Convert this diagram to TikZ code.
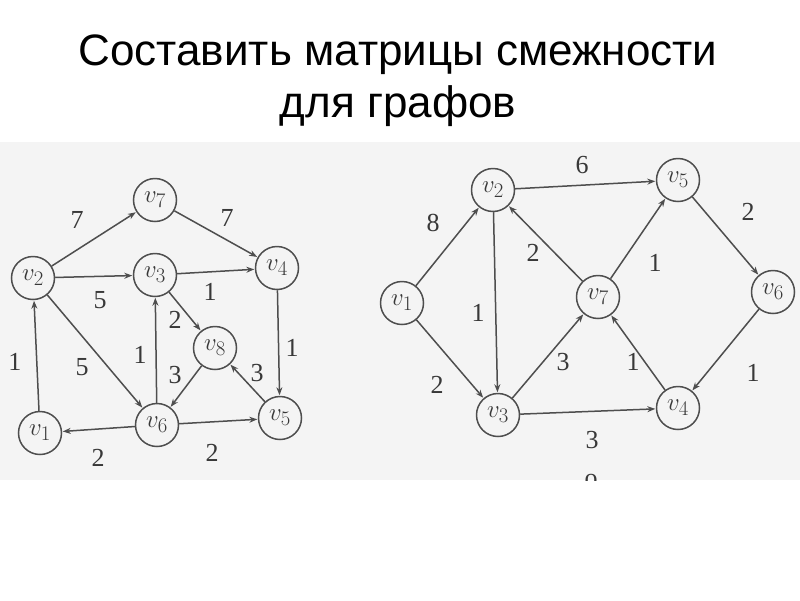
\documentclass[tikz,border=0pt]{standalone}
\usepackage{fontspec}
\setmainfont{Liberation Serif}
\newfontfamily\titlefont{Liberation Sans}
\usetikzlibrary{arrows.meta}
\definecolor{scan}{HTML}{F4F4F4}
\definecolor{ink}{HTML}{4E4E4E}
\definecolor{txt}{HTML}{383838}
\tikzset{
  vert/.style={circle, draw=ink, line width=1.5pt, fill=scan, minimum size=43pt, inner sep=0pt, text=txt, font=\fontsize{30}{30}\selectfont},
  edge/.style={draw=ink, line width=1.5pt, -{Stealth[length=8pt,width=6pt]}, shorten >=0.5pt},
  wlab/.style={text=txt, font=\fontsize{26}{26}\selectfont, inner sep=0pt},
  ttl/.style={font=\titlefont\fontsize{44}{44}\selectfont, anchor=base, inner sep=0pt}
}
\begin{document}
\begin{tikzpicture}[x=1pt,y=-1pt]
\useasboundingbox (0,0) rectangle (800,600);
\fill[white] (0,0) rectangle (800,600);
\fill[scan] (0,142) rectangle (800,480);
\node[ttl] (t1) at (398,65) {Составить матрицы смежности};
\node[ttl] (t2) at (398,117) {для графов};
% left graph
\node[vert] (a7) at (155,200) {$v_7$};
\node[vert] (a2) at (33,278) {$v_2$};
\node[vert] (a3) at (155,275) {$v_3$};
\node[vert] (a4) at (277,268) {$v_4$};
\node[vert] (a8) at (215,348) {$v_8$};
\node[vert] (a1) at (40,433) {$v_1$};
\node[vert] (a6) at (157,425) {$v_6$};
\node[vert] (a5) at (280,418) {$v_5$};
\draw[edge] (a1) -- (a2);
\draw[edge] (a2) -- (a7);
\draw[edge] (a7) -- (a4);
\draw[edge] (a2) -- (a3);
\draw[edge] (a3) -- (a4);
\draw[edge] (a2) -- (a6);
\draw[edge] (a3) -- (a8);
\draw[edge] (a6) -- (a3);
\draw[edge] (a8) -- (a6);
\draw[edge] (a4) -- (a5);
\draw[edge] (a5) -- (a8);
\draw[edge] (a6) -- (a1);
\draw[edge] (a6) -- (a5);
\node[wlab] (l1) at (77,220) {7};
\node[wlab] (l2) at (227,218) {7};
\node[wlab] (l3) at (100,300) {5};
\node[wlab] (l4) at (210,292) {1};
\node[wlab] (l5) at (175,320) {2};
\node[wlab] (l6) at (292,348) {1};
\node[wlab] (l7) at (82,367) {5};
\node[wlab] (l8) at (140,355) {1};
\node[wlab] (l9) at (175,375) {3};
\node[wlab] (l10) at (257,373) {3};
\node[wlab] (l11) at (15,362) {1};
\node[wlab] (l12) at (98,458) {2};
\node[wlab] (l13) at (212,453) {2};
% right graph
\node[vert] (b2) at (493,190) {$v_2$};
\node[vert] (b5) at (678,180) {$v_5$};
\node[vert] (b1) at (402,303) {$v_1$};
\node[vert] (b7) at (598,297) {$v_7$};
\node[vert] (b6) at (773,292) {$v_6$};
\node[vert] (b3) at (498,415) {$v_3$};
\node[vert] (b4) at (678,408) {$v_4$};
\draw[edge] (b1) -- (b2);
\draw[edge] (b1) -- (b3);
\draw[edge] (b2) -- (b5);
\draw[edge] (b2) -- (b3);
\draw[edge] (b7) -- (b2);
\draw[edge] (b7) -- (b5);
\draw[edge] (b3) -- (b7);
\draw[edge] (b3) -- (b4);
\draw[edge] (b4) -- (b7);
\draw[edge] (b5) -- (b6);
\draw[edge] (b6) -- (b4);
\node[wlab] (r1) at (582,165) {6};
\node[wlab] (r2) at (433,223) {8};
\node[wlab] (r3) at (533,253) {2};
\node[wlab] (r4) at (748,212) {2};
\node[wlab] (r5) at (655,263) {1};
\node[wlab] (r6) at (478,313) {1};
\node[wlab] (r7) at (563,362) {3};
\node[wlab] (r8) at (633,362) {1};
\node[wlab] (r9) at (753,373) {1};
\node[wlab] (r10) at (437,385) {2};
\node[wlab] (r11) at (592,440) {3};
\begin{scope}
\clip (0,142) rectangle (800,480);
\node[wlab, anchor=north] (cut) at (591,474) {о};
\end{scope}
\end{tikzpicture}
\end{document}
